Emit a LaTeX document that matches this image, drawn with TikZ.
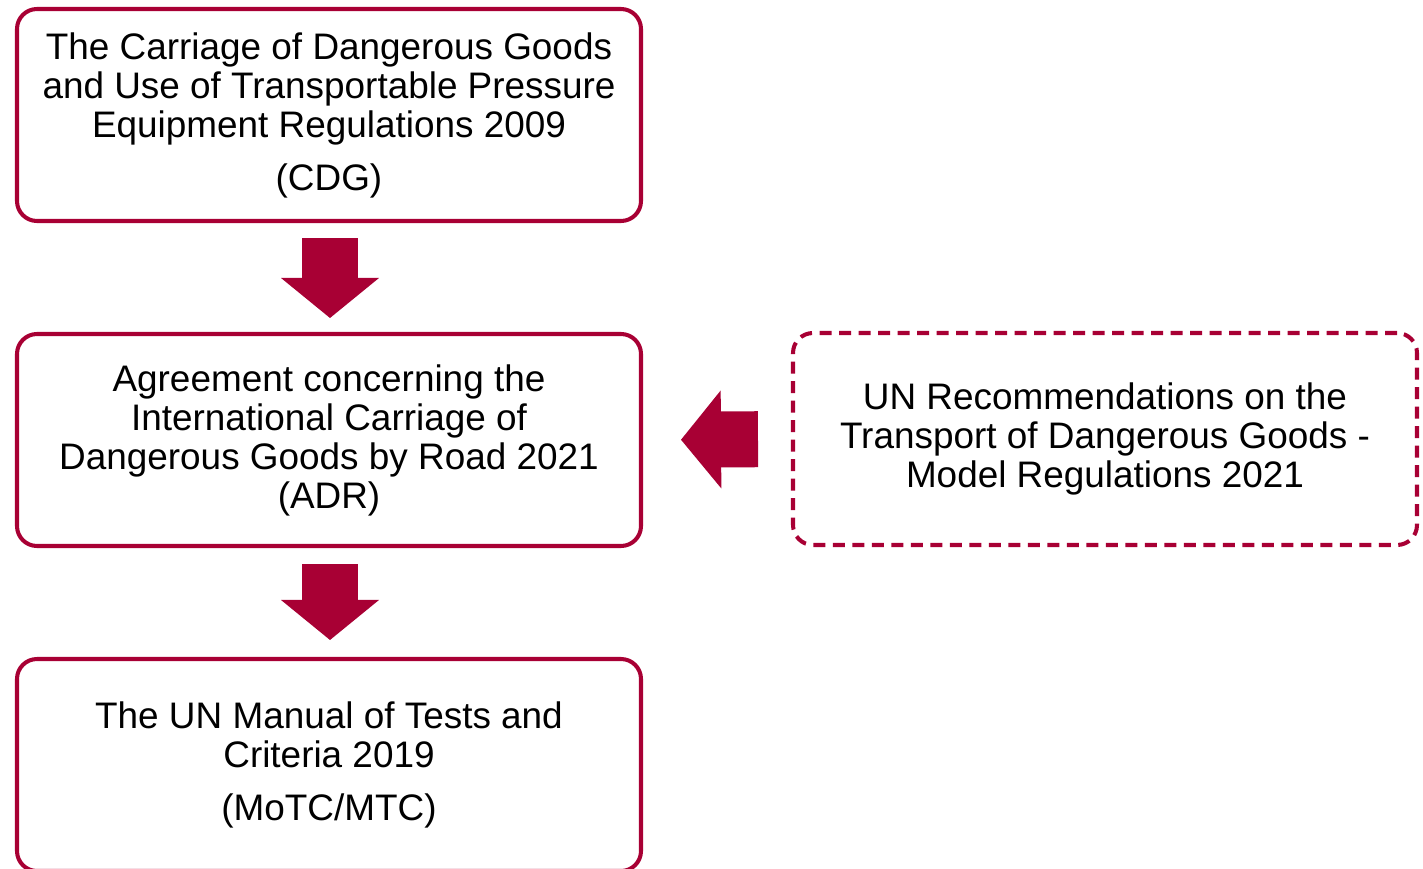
\documentclass[tikz,border=0pt]{standalone}
\usepackage{fontspec}
\setmainfont{Liberation Sans}
\usetikzlibrary{arrows.meta, positioning, calc}
\definecolor{hsered}{RGB}{168,0,52}

\begin{document}
\begin{tikzpicture}[
        font=\fontsize{21}{22.2}\selectfont,
        regbox/.style={rectangle, rounded corners=0.4cm, draw=hsered, line width=2.3pt, minimum width=12.48cm, minimum height=4.24cm, align=center, inner sep=0pt},
        dashbox/.style={regbox, dash pattern=on 0.24cm off 0.15cm},
        blockarrow/.style={hsered, line width=1.12cm, -{Triangle[width=1.96cm, length=0.8cm, line width=0pt]}}
    ]
        \useasboundingbox (0,0) rectangle (28.46,-17.38);
        \node[regbox] (cdg) at (6.58,-2.3) {The Carriage of Dangerous Goods\\and Use of Transportable Pressure\\Equipment Regulations 2009\\[0.28cm](CDG)};
        \node[regbox] (adr) at (6.58,-8.8) {Agreement concerning the\\International Carriage of\\Dangerous Goods by Road 2021\\(ADR)};
        \node[regbox] (mtc) at (6.58,-15.3) {The UN Manual of Tests and\\Criteria 2019\\[0.28cm](MoTC/MTC)};
        \node[dashbox] (unmr) at (22.1,-8.78) {UN Recommendations on the\\Transport of Dangerous Goods -\\Model Regulations 2021};
        \draw[blockarrow, shorten <=0.3cm, shorten >=0.28cm] ([xshift=0.02cm]cdg.south) -- ([xshift=0.02cm]adr.north);
        \draw[blockarrow, shorten <=0.32cm, shorten >=0.34cm] ([xshift=0.02cm]adr.south) -- ([xshift=0.02cm]mtc.north);
        \draw[blockarrow, shorten <=0.66cm, shorten >=0.76cm] (unmr.west) -- (adr.east);
    \end{tikzpicture}
\end{document}
